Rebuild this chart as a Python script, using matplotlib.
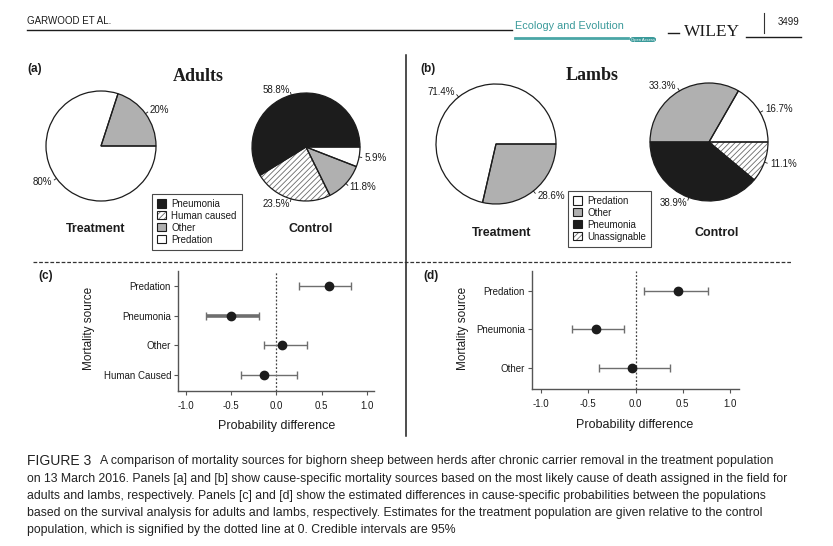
import matplotlib
matplotlib.use("Agg")
import matplotlib.pyplot as plt
from matplotlib.lines import Line2D
from matplotlib.patches import Patch, FancyBboxPatch
import numpy as np

plt.rcParams['font.family'] = ['Liberation Sans', 'DejaVu Sans']
plt.rcParams['axes.unicode_minus'] = False
plt.rcParams['hatch.linewidth'] = 0.6

W, H = 833, 546
fig = plt.figure(figsize=(W / 100, H / 100), dpi=100)

# ---- data ----
adult_trt_labels = ['Other', 'Predation']
adult_trt_pct = [20, 80]
adult_ctl_labels = ['Pneumonia', 'Human caused', 'Other', 'Predation']
adult_ctl_pct = [58.8, 23.5, 11.8, 5.9]
lamb_trt_labels = ['Other', 'Predation']
lamb_trt_pct = [28.6, 71.4]
lamb_ctl_labels = ['Predation', 'Other', 'Pneumonia', 'Unassignable']
lamb_ctl_pct = [16.7, 33.3, 38.9, 11.1]

adult_legend = ['Pneumonia', 'Human caused', 'Other', 'Predation']
lamb_legend = ['Predation', 'Other', 'Pneumonia', 'Unassignable']

adult_src = ['Predation', 'Pneumonia', 'Other', 'Human Caused']
adult_est = [0.58, -0.50, 0.06, -0.14]
adult_lo = [0.25, -0.78, -0.14, -0.39]
adult_hi = [0.83, -0.19, 0.34, 0.23]
adult_lw = [1.0, 2.6, 1.0, 1.0]

lamb_src = ['Predation', 'Pneumonia', 'Other']
lamb_est = [0.45, -0.42, -0.04]
lamb_lo = [0.09, -0.67, -0.39]
lamb_hi = [0.77, -0.12, 0.37]
lamb_lw = [1.0, 1.0, 1.0]

x_ticks = [-1.0, -0.5, 0.0, 0.5, 1.0]

BLACK = '#1c1c1c'
GRAY = '#b0b0b0'
HATCH = '//////'
fill = {'Pneumonia': BLACK, 'Human caused': 'white', 'Unassignable': 'white',
        'Other': GRAY, 'Predation': 'white'}
hatch = {'Human caused': HATCH, 'Unassignable': HATCH}


def fx(x):
    return x / W


def fy(y):
    return 1 - y / H


def rect(l, t, r, b):
    return [l / W, 1 - b / H, (r - l) / W, (b - t) / H]


def hline(x0, x1, y, **kw):
    fig.add_artist(Line2D([fx(x0), fx(x1)], [fy(y), fy(y)], **kw))


def vline(x, y0, y1, **kw):
    fig.add_artist(Line2D([fx(x), fx(x)], [fy(y0), fy(y1)], **kw))


def pie(cx, cy, r, labels, pct, ccw=True):
    ax = fig.add_axes(rect(cx - r, cy - r, cx + r, cy + r))
    cols = [fill[l] for l in labels]
    hts = [hatch.get(l, '') for l in labels]
    ax.pie(pct, colors=cols, hatch=hts, startangle=0, counterclock=ccw,
           wedgeprops=dict(edgecolor='#6a6a6a', linewidth=0))
    ax.pie(pct, startangle=0, counterclock=ccw,
           wedgeprops=dict(fill=False, edgecolor=BLACK, linewidth=0.9))
    # R-style labels with short leader ticks
    ang = 0.0
    sgn = 1 if ccw else -1
    for p in pct:
        mid = np.deg2rad(ang + sgn * p * 3.6 / 2)
        ang += sgn * p * 3.6
        c, s = np.cos(mid), np.sin(mid)
        ax.plot([c, 1.05 * c], [s, 1.05 * s], color=BLACK, lw=0.6, clip_on=False)
        txt = ('%d%%' % p) if float(p).is_integer() else ('%.1f%%' % p)
        ax.text(1.1 * c, 1.1 * s, txt, ha='left' if c > 0 else 'right',
                va='center', fontsize=7, color=BLACK)
    ax.set_xlim(-1, 1)
    ax.set_ylim(-1, 1)
    ax.set_aspect('equal')
    ax.axis('off')


def legend(names, x, y):
    handles = []
    for n in names:
        if n in hatch:
            handles.append((Patch(facecolor='white', edgecolor='#6a6a6a', lw=0, hatch=HATCH),
                            Patch(facecolor='none', edgecolor=BLACK, lw=0.8)))
        else:
            handles.append(Patch(facecolor=fill[n], edgecolor=BLACK, lw=0.8))
    lg = fig.legend(handles, names, loc='upper left', bbox_to_anchor=(fx(x), fy(y)),
                    borderaxespad=0, fontsize=7, frameon=True, fancybox=False,
                    edgecolor=BLACK, handlelength=0.9, handleheight=0.9,
                    handletextpad=0.6, labelspacing=0.2, borderpad=0.5)
    lg.get_frame().set_linewidth(0.8)
    for t in lg.get_texts():
        t.set_color(BLACK)


def forest(l, t, r, b, src, est, lo, hi, lws, xlim):
    ax = fig.add_axes(rect(l, t, r, b))
    n = len(src)
    ys = np.arange(n, 0, -1)
    for yv, e, a, z, w in zip(ys, est, lo, hi, lws):
        ax.errorbar([e], [yv], xerr=[[e - a], [z - e]], fmt='o', color=BLACK,
                    ecolor='#6e6e6e', elinewidth=w, capsize=2.6, capthick=1.0,
                    markersize=6, zorder=3)
    ax.axvline(0, ls=(0, (1.5, 1.5)), color='#444444', lw=0.9)
    ax.set_xlim(*xlim)
    ax.set_ylim(0.44, n + 0.52)
    ax.set_xticks(x_ticks)
    ax.set_xticklabels(['%.1f' % v for v in x_ticks])
    ax.set_yticks(ys)
    ax.set_yticklabels(src)
    for sp in ['top', 'right']:
        ax.spines[sp].set_visible(False)
    for sp in ['left', 'bottom']:
        ax.spines[sp].set_color('#555555')
        ax.spines[sp].set_linewidth(1.0)
    ax.tick_params(axis='both', length=3, width=0.8, color='#555555',
                   labelsize=7, labelcolor=BLACK, pad=2)
    ax.tick_params(axis='x', pad=4)


# ---- header ----
fig.text(fx(27), fy(21), 'GARWOOD ET AL.', fontsize=7, color=BLACK, va='center', ha='left')
hline(27, 512, 30, color=BLACK, lw=1.0)
fig.text(fx(515), fy(26), 'Ecology and Evolution', fontsize=7.8,
         color='#3a9a9a', va='center', ha='left')
hline(515, 628, 38, color='#4aa6a6', lw=2.0)
fig.add_artist(FancyBboxPatch((fx(630), fy(42)), fx(26), 5 / H, transform=fig.transFigure,
                              boxstyle='round,pad=0,rounding_size=0.004',
                              facecolor='#3a9a9a', edgecolor='none'))
fig.text(fx(643), fy(39.5), 'Open Access', fontsize=3, color='white', ha='center',
         va='center')
hline(668, 679, 33, color=BLACK, lw=1.0)
fig.text(fx(712), fy(32), 'WILEY', fontsize=12.5, family='Liberation Serif', color=BLACK,
         ha='center', va='center')
hline(746, 801, 37, color=BLACK, lw=1.0)
vline(764, 13, 33, color='#333333', lw=0.8)
fig.text(fx(778), fy(22), '3499', fontsize=7, color=BLACK, va='center', ha='left')

# ---- separators ----
vline(406, 55, 436, color=BLACK, lw=1.1)
hline(33, 792, 262, color='#333333', lw=0.9, ls=(0, (3, 1.5)))

# ---- panel (a) ----
fig.text(fx(27), fy(69), '(a)', fontsize=8.5, fontweight='bold', va='center', color=BLACK)
fig.text(fx(198), fy(77), 'Adults', fontsize=13, fontweight='bold',
         family='Liberation Serif', ha='center', va='center', color=BLACK)
pie(101, 146, 55, adult_trt_labels, adult_trt_pct)
pie(306, 147, 54, adult_ctl_labels, adult_ctl_pct)
legend(adult_legend, 152, 194)
fig.text(fx(96), fy(229), 'Treatment', fontsize=9, fontweight='bold', ha='center',
         va='center', color=BLACK)
fig.text(fx(311), fy(229), 'Control', fontsize=9, fontweight='bold', ha='center',
         va='center', color=BLACK)

# ---- panel (b) ----
fig.text(fx(420), fy(69), '(b)', fontsize=8.5, fontweight='bold', va='center', color=BLACK)
fig.text(fx(592), fy(76), 'Lambs', fontsize=13, fontweight='bold',
         family='Liberation Serif', ha='center', va='center', color=BLACK)
pie(496, 144, 60, lamb_trt_labels, lamb_trt_pct, ccw=False)
pie(709, 142, 59, lamb_ctl_labels, lamb_ctl_pct)
legend(lamb_legend, 568, 191)
fig.text(fx(502), fy(233), 'Treatment', fontsize=9, fontweight='bold', ha='center',
         va='center', color=BLACK)
fig.text(fx(717), fy(233), 'Control', fontsize=9, fontweight='bold', ha='center',
         va='center', color=BLACK)

# ---- panel (c) ----
fig.text(fx(38), fy(276), '(c)', fontsize=8.5, fontweight='bold', va='center', color=BLACK)
forest(178, 271, 374, 391, adult_src, adult_est, adult_lo, adult_hi, adult_lw,
       (-1.09, 1.08))
fig.text(fx(89), fy(328), 'Mortality source', fontsize=8.5, rotation=90, ha='center',
         va='center', color=BLACK)
fig.text(fx(277), fy(426), 'Probability difference', fontsize=9, ha='center',
         va='center', color=BLACK)

# ---- panel (d) ----
fig.text(fx(423), fy(276), '(d)', fontsize=8.5, fontweight='bold', va='center', color=BLACK)
forest(532, 271, 739, 389, lamb_src, lamb_est, lamb_lo, lamb_hi, lamb_lw,
       (-1.095, 1.095))
fig.text(fx(463), fy(328), 'Mortality source', fontsize=8.5, rotation=90, ha='center',
         va='center', color=BLACK)
fig.text(fx(635), fy(425), 'Probability difference', fontsize=9, ha='center',
         va='center', color=BLACK)

# ---- caption ----
caption = [
    'A comparison of mortality sources for bighorn sheep between herds after chronic carrier removal in the treatment population',
    'on 13 March 2016. Panels [a] and [b] show cause\u2010specific mortality sources based on the most likely cause of death assigned in the field for',
    'adults and lambs, respectively. Panels [c] and [d] show the estimated differences in cause\u2010specific probabilities between the populations',
    'based on the survival analysis for adults and lambs, respectively. Estimates for the treatment population are given relative to the control',
    'population, which is signified by the dotted line at 0. Credible intervals are 95%',
]
cap_y = [461, 479, 496, 513, 530]
fig.text(fx(27), fy(cap_y[0]), 'FIGURE 3', fontsize=10, color='#222222',
         va='center', ha='left')
cap_texts = []
for i, (line, yy) in enumerate(zip(caption, cap_y)):
    cap_texts.append(fig.text(fx(100 if i == 0 else 27), fy(yy), line, fontsize=9,
                              color='#222222', va='center', ha='left'))
# fit the longest caption line into the page width
renderer = fig.canvas.get_renderer()
w2 = cap_texts[1].get_window_extent(renderer).width
size = 9 * (790 - 27) / w2
for t in cap_texts:
    t.set_fontsize(size)

fig.savefig('out.png', dpi=100)
